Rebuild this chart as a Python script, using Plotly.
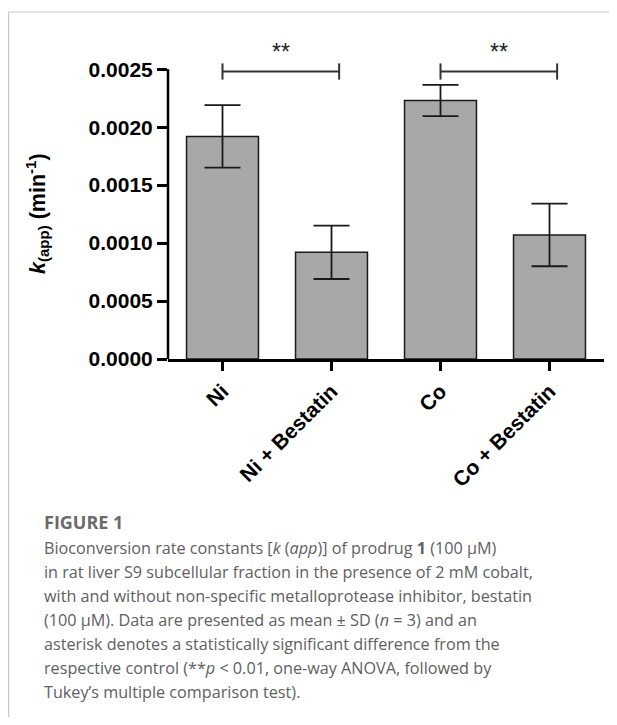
import plotly.graph_objects as go

# ---------------- data ----------------
categories = ["Ni", "Ni + Bestatin", "Co", "Co + Bestatin"]
kapp_mean = [0.00192, 0.00092, 0.00223, 0.00107]
kapp_sd = [0.00027, 0.00023, 0.000135, 0.00027]
sig_pairs = [(0, 1), (2, 3)]
sig_labels = ["**", "**"]
sig_level = [0.00248, 0.00248]
y_tickvals = [0.0, 0.0005, 0.0010, 0.0015, 0.0020, 0.0025]
y_ticktext = ["0.0000", "0.0005", "0.0010", "0.0015", "0.0020", "0.0025"]

caption_title = "FIGURE 1"
caption_lines = [
    "Bioconversion rate constants [<i>k</i> (<i>app</i>)] of prodrug <b>1</b> (100 μM)",
    "in rat liver S9 subcellular fraction in the presence of 2 mM cobalt,",
    "with and without non-specific metalloprotease inhibitor, bestatin",
    "(100 μM). Data are presented as mean ± SD (<i>n</i> = 3) and an",
    "asterisk denotes a statistically significant difference from the",
    "respective control (**<i>p</i> &lt; 0.01, one-way ANOVA, followed by",
    "Tukey’s multiple comparison test).",
]

# ---------------- layout geometry ----------------
OFF = 8                      # page body margin
W, H = 601, 709
ML, MR, MT, MB = 160, 5, 38, 358
PW, PH = W - ML - MR, H - MT - MB
YMAX = 0.0027
Y_AXIS_TOP = 0.0025


def px_x(rx):
    return (rx - OFF - ML) / PW


def px_y(ry):
    return (H - MB - (ry - OFF)) / PH


AX_FONT = "Liberation Sans, Arial, sans-serif"
CAP_FONT = "Open Sans, sans-serif"

fig = go.Figure()
x_pos = list(range(len(categories)))
fig.add_trace(go.Bar(
    x=x_pos,
    y=kapp_mean,
    width=0.66,
    marker=dict(color="#a8a8a8", line=dict(color="#1a1a1a", width=1.5)),
    error_y=dict(type="data", array=kapp_sd, visible=True,
                 color="#1a1a1a", thickness=1.8, width=18),
    showlegend=False,
    hoverinfo="skip",
))

shapes = []
annotations = []

# y-axis line stopping at the top tick
shapes.append(dict(type="line", xref="paper", yref="y", x0=0, x1=0,
                   y0=0, y1=Y_AXIS_TOP, line=dict(color="black", width=2.5)))

# significance brackets
tick_h = 0.00007
for (i, j), lab, lvl in zip(sig_pairs, sig_labels, sig_level):
    x0, x1 = i, j + 0.07
    shapes.append(dict(type="line", xref="x", yref="y", x0=x0, x1=x1, y0=lvl, y1=lvl,
                       line=dict(color="#333333", width=2)))
    for xx in (x0, x1):
        shapes.append(dict(type="line", xref="x", yref="y", x0=xx, x1=xx,
                           y0=lvl - tick_h, y1=lvl + tick_h,
                           line=dict(color="#333333", width=2)))
    annotations.append(dict(xref="x", yref="y", x=(x0 + x1) / 2, y=lvl, text=lab,
                            showarrow=False, yanchor="bottom", yshift=5,
                            font=dict(family=AX_FONT, size=23, color="#222222")))

# y-axis title
annotations.append(dict(
    xref="paper", yref="paper", x=px_x(37), y=(Y_AXIS_TOP / 2) / YMAX,
    text="<b><i>k</i><sub>(app)</sub> (min<sup>-1</sup>)</b>", textangle=-90,
    showarrow=False, xanchor="center", yanchor="middle",
    font=dict(family=AX_FONT, size=21.5, color="black")))

# frame lines
shapes.append(dict(type="line", xref="paper", yref="paper", x0=px_x(8.6), x1=px_x(640),
                   y0=px_y(12), y1=px_y(12), line=dict(color="#c8c8c8", width=1.2)))
shapes.append(dict(type="line", xref="paper", yref="paper", x0=px_x(8.6), x1=px_x(8.6),
                   y0=px_y(12), y1=px_y(760), line=dict(color="#c8c8c8", width=1.2)))

# caption
annotations.append(dict(xref="paper", yref="paper", x=px_x(42), y=px_y(522),
                        text="<b>" + caption_title + "</b>", showarrow=False,
                        xanchor="left", yanchor="middle",
                        font=dict(family=CAP_FONT, size=18, color="#6a6a6a")))
for k, line in enumerate(caption_lines):
    annotations.append(dict(xref="paper", yref="paper", x=px_x(42), y=px_y(548 + 24 * k),
                            text=line, showarrow=False, xanchor="left", yanchor="middle",
                            font=dict(family=CAP_FONT, size=16.2, color="#606060")))

fig.update_layout(
    width=W, height=H,
    margin=dict(l=ML, r=MR, t=MT, b=MB, pad=0),
    paper_bgcolor="white", plot_bgcolor="white",
    bargap=0.34,
    shapes=shapes,
    annotations=annotations,
    xaxis=dict(range=[-0.5, 3.5], tickvals=x_pos, ticktext=categories, tickangle=-45,
               ticks="outside", ticklen=9, tickwidth=2.5, tickcolor="black",
               showline=True, linewidth=2.5, linecolor="black",
               showgrid=False, zeroline=False,
               tickfont=dict(family=AX_FONT, size=21, color="black", weight="bold")),
    yaxis=dict(range=[0, YMAX], tickvals=y_tickvals, ticktext=y_ticktext,
               ticks="outside", ticklen=10, tickwidth=2.5, tickcolor="black",
               showline=False, showgrid=False, zeroline=False,
               tickfont=dict(family=AX_FONT, size=21, color="black", weight="bold")),
)

fig.write_html("out.html")
